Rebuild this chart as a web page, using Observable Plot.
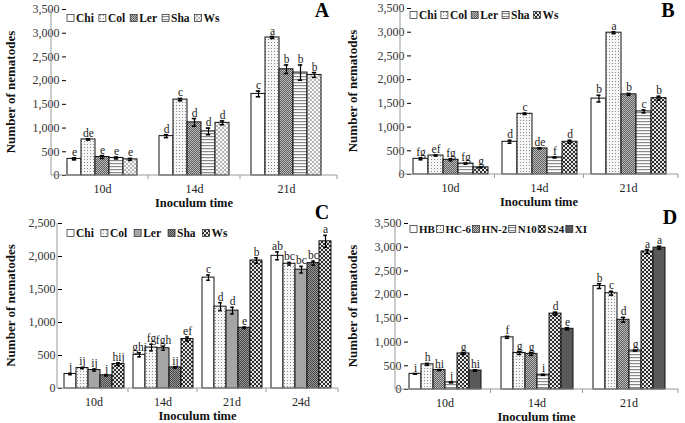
<!DOCTYPE html>
<html><head><meta charset="utf-8">
<script src="https://cdn.jsdelivr.net/npm/d3@7"></script>
<script src="https://cdn.jsdelivr.net/npm/@observablehq/plot@0.6"></script>
<style>
html,body{margin:0;padding:0;background:#fff;}
#wrap{position:relative;width:685px;height:423px;overflow:hidden;background:#fff;}
.panel{position:absolute;}
svg text{font-family:"Liberation Serif","Times New Roman",serif;}
</style></head><body>
<svg width="0" height="0" style="position:absolute">
<defs>
<pattern id="pDots" width="3" height="3" patternUnits="userSpaceOnUse"><rect width="3" height="3" fill="#f6f6f6"/><rect x="0" y="0" width="1" height="1" fill="#8c8c8c"/></pattern>
<pattern id="pHLines" width="4" height="3" patternUnits="userSpaceOnUse"><rect width="4" height="3" fill="#fff"/><rect y="1" width="4" height="1.2" fill="#8a8a8a"/></pattern>
<pattern id="pDarkX" width="2" height="2" patternUnits="userSpaceOnUse"><rect width="2" height="2" fill="#bdbdbd"/><rect width="1" height="1" fill="#5e5e5e"/><rect x="1" y="1" width="1" height="1" fill="#5e5e5e"/></pattern>
<pattern id="pDarkX2" width="2" height="2" patternUnits="userSpaceOnUse"><rect width="2" height="2" fill="#9a9a9a"/><rect width="1" height="1" fill="#444"/><rect x="1" y="1" width="1" height="1" fill="#444"/></pattern>
<pattern id="pLightX" width="4" height="4" patternUnits="userSpaceOnUse"><rect width="4" height="4" fill="#f7f7f7"/><path d="M0,0L4,4M4,0L0,4" stroke="#a8a8a8" stroke-width="0.8"/></pattern>
<pattern id="pBoldX" width="4" height="4" patternUnits="userSpaceOnUse"><rect width="4" height="4" fill="#e6e6e6"/><path d="M0,0L4,4M4,0L0,4" stroke="#2e2e2e" stroke-width="1"/></pattern>
</defs>
</svg>
<div id="wrap"></div>
<script>
// ---------- data ----------
const timesABD = ["10d", "14d", "21d"];
const timesC = ["10d", "14d", "21d", "24d"];
const cultivars = ["Chi", "Col", "Ler", "Sha", "Ws"];
const linesD = ["HB", "HC-6", "HN-2", "N10", "S24", "XI"];
const ticks3500 = [0, 500, 1000, 1500, 2000, 2500, 3000, 3500];
const ticks2500 = [0, 500, 1000, 1500, 2000, 2500];
const xTitle = "Inoculum time";
const yTitle = "Number of nematodes";

const meanA = [[350, 760, 390, 370, 340], [830, 1600, 1120, 930, 1110], [1720, 2910, 2240, 2170, 2120]];
const errA  = [[20, 12, 30, 20, 20], [30, 25, 80, 70, 40], [60, 20, 90, 160, 50]];
const sigA  = [["e", "de", "e", "e", "e"], ["d", "c", "d", "d", "d"], ["c", "a", "b", "b", "b"]];

const meanB = [[330, 400, 310, 230, 150], [690, 1280, 550, 360, 690], [1600, 2990, 1690, 1330, 1610]];
const errB  = [[20, 10, 20, 10, 10], [30, 15, 10, 10, 30], [70, 20, 20, 30, 40]];
const sigB  = [["fg", "ef", "fg", "fg", "g"], ["d", "c", "de", "f", "d"], ["b", "a", "b", "c", "b"]];

const meanC = [[220, 310, 280, 200, 370], [510, 620, 610, 320, 750], [1680, 1240, 1180, 920, 1940], [2010, 1890, 1800, 1900, 2230]];
const errC  = [[10, 10, 15, 10, 20], [30, 50, 30, 10, 30], [40, 60, 50, 10, 40], [60, 20, 50, 30, 90]];
const sigC  = [["j", "ij", "ij", "j", "hij"], ["ghi", "fg", "fgh", "ij", "ef"], ["c", "d", "d", "e", "b"], ["ab", "bc", "bc", "bc", "a"]];

const meanD = [[330, 530, 410, 150, 760, 400], [1100, 770, 750, 310, 1600, 1280], [2180, 2030, 1470, 820, 2910, 2990]];
const errD  = [[5, 20, 10, 10, 20, 15], [20, 30, 30, 10, 30, 20], [50, 40, 50, 10, 40, 30]];
const sigD  = [["i", "h", "hi", "j", "g", "hi"], ["f", "g", "g", "i", "d", "e"], ["b", "c", "d", "g", "a", "a"]];

// ---------- panel layout / style ----------
const panels = [
  {tag: "A", left: 0, top: 0, width: 342, height: 212, ml: 51, mr: 5, mt: 9, mb: 37,
   times: timesABD, series: cultivars, mean: meanA, err: errA, sig: sigA, yMax: 3500, yTicks: ticks3500,
   fills: ["#ffffff", "url(#pDots)", "url(#pDarkX)", "url(#pHLines)", "url(#pLightX)"],
   pi: 0.22, po: 0.15, cap: 4.8, legX: 67, legY: 18, legFont: 11.5, legGap: 5, tagX: 322, tagY: 17, yTitleX: 15},
  {tag: "B", left: 342, top: 0, width: 343, height: 212, ml: 58, mr: 7, mt: 8, mb: 38,
   times: timesABD, series: cultivars, mean: meanB, err: errB, sig: sigB, yMax: 3500, yTicks: ticks3500,
   fills: ["#ffffff", "url(#pDots)", "url(#pDarkX)", "url(#pHLines)", "url(#pBoldX)"],
   pi: 0.12, po: 0.12, cap: 5.5, legX: 68, legY: 15, legFont: 11.5, legGap: 4, tagX: 326, tagY: 17, yTitleX: 15},
  {tag: "C", left: 0, top: 212, width: 342, height: 211, ml: 57, mr: 4, mt: 11, mb: 35,
   times: timesC, series: cultivars, mean: meanC, err: errC, sig: sigC, yMax: 2500, yTicks: ticks2500,
   fills: ["#ffffff", "url(#pDots)", "#a5a5a5", "url(#pDarkX2)", "url(#pBoldX)"],
   pi: 0.08, po: 0.06, cap: 4.2, legX: 67, legY: 21, legFont: 11.5, legGap: 7, tagX: 322, tagY: 7, yTitleX: 15},
  {tag: "D", left: 342, top: 212, width: 343, height: 211, ml: 53, mr: 7, mt: 11, mb: 34,
   times: timesABD, series: linesD, mean: meanD, err: errD, sig: sigD, yMax: 3500, yTicks: ticks3500,
   fills: ["#ffffff", "url(#pDots)", "url(#pDarkX)", "url(#pHLines)", "url(#pBoldX)", "#595959"],
   pi: 0.21, po: 0.13, cap: 3.8, legX: 68, legY: 17, legFont: 11, legGap: 1.5, tagX: 328, tagY: 12, yTitleX: 15}
];

const wrap = document.getElementById("wrap");

function drawPanel(p, div) {
  const rows = [];
  p.times.forEach((t, i) => p.series.forEach((s, j) => rows.push({
    time: t, series: s, value: p.mean[i][j], err: p.err[i][j], sig: p.sig[i][j]
  })));
  const chart = Plot.plot({
    width: p.width, height: p.height,
    marginLeft: p.ml, marginRight: p.mr, marginTop: p.mt, marginBottom: p.mb,
    style: {fontFamily: '"Liberation Serif","Times New Roman",serif', fontSize: "12px", background: "transparent", overflow: "visible"},
    fx: {domain: p.times, paddingInner: p.pi, paddingOuter: p.po, axis: "bottom", label: null, tickSize: 0, tickPadding: 9},
    x: {domain: p.series, axis: null, padding: 0},
    y: {domain: [0, p.yMax], ticks: p.yTicks, tickFormat: d3.format(","), tickSize: 4, tickPadding: 3, label: null},
    color: {domain: p.series, range: p.fills},
    marks: [
      Plot.barY(rows, {fx: "time", x: "series", y: "value", fill: "series", stroke: "#111", strokeWidth: 1}),
      Plot.ruleX(rows, {fx: "time", x: "series", y1: d => d.value - d.err, y2: d => d.value + d.err, stroke: "#000", strokeWidth: 1.2}),
      Plot.tickY(rows, {fx: "time", x: "series", y: d => d.value + d.err, stroke: "#000", strokeWidth: 1.6, insetLeft: p.cap, insetRight: p.cap}),
      Plot.tickY(rows, {fx: "time", x: "series", y: d => d.value - d.err, stroke: "#000", strokeWidth: 1.6, insetLeft: p.cap, insetRight: p.cap}),
      Plot.text(rows, {fx: "time", x: "series", y: d => d.value + d.err, text: "sig", dy: -2, lineAnchor: "bottom", fontSize: 11.5, fill: "#1a1a1a"})
    ]
  });
  div.appendChild(chart);

  const svg = d3.select(chart);
  svg.selectAll('g[aria-label="y-axis tick"]').attr("stroke", "#999");
  svg.selectAll('g[aria-label="y-axis tick label"]').attr("fill", "#333");
  svg.selectAll('g[aria-label="fx-axis tick label"]').attr("fill", "#222").attr("font-size", 12);

  const y0 = p.height - p.mb;
  const x1 = p.width - p.mr;
  svg.append("line").attr("x1", p.ml).attr("x2", p.ml).attr("y1", p.mt).attr("y2", y0).attr("stroke", "#999");
  svg.append("line").attr("x1", p.ml).attr("x2", x1).attr("y1", y0).attr("y2", y0).attr("stroke", "#999");
  const s = chart.scale("fx");
  const bw = s.bandwidth;
  const pos = t => s.apply(t);
  const bounds = [];
  for (let i = 0; i < p.times.length - 1; i++) bounds.push((pos(p.times[i]) + bw + pos(p.times[i + 1])) / 2);
  bounds.push(x1);
  bounds.forEach(b => svg.append("line").attr("x1", b).attr("x2", b).attr("y1", y0).attr("y2", y0 + 4).attr("stroke", "#999"));

  svg.append("text").text(xTitle).attr("x", (p.ml + x1) / 2).attr("y", y0 + 32)
    .attr("text-anchor", "middle").attr("font-weight", "bold").attr("font-size", 12.5).attr("fill", "#111");
  svg.append("text").text(yTitle).attr("transform", `translate(${p.yTitleX},${(p.mt + y0) / 2}) rotate(-90)`)
    .attr("text-anchor", "middle").attr("font-weight", "bold").attr("font-size", 13).attr("fill", "#111");

  svg.append("text").text(p.tag).attr("x", p.tagX).attr("y", p.tagY)
    .attr("text-anchor", "middle").attr("font-weight", "bold").attr("font-size", 20).attr("fill", "#000");

  const lg = svg.append("g").attr("transform", `translate(${p.legX},${p.legY})`).attr("text-anchor", "start");
  let cx = 0;
  p.series.forEach((name, j) => {
    lg.append("rect").attr("x", cx).attr("y", -3.5).attr("width", 7).attr("height", 7)
      .attr("fill", p.fills[j]).attr("stroke", "#222").attr("stroke-width", 0.7);
    const t = lg.append("text").text(name).attr("x", cx + 9).attr("y", 0).attr("dy", "0.35em")
      .attr("text-anchor", "start")
      .attr("font-weight", "bold").attr("font-size", p.legFont).attr("fill", "#111");
    let w = t.node().getComputedTextLength();
    if (!w) w = name.length * p.legFont * 0.55;
    cx += 9 + w + p.legGap;
  });
}

panels.forEach(p => {
  const div = document.createElement("div");
  div.className = "panel";
  div.style.left = p.left + "px";
  div.style.top = p.top + "px";
  wrap.appendChild(div);
  drawPanel(p, div);
});
</script>
</body></html>
